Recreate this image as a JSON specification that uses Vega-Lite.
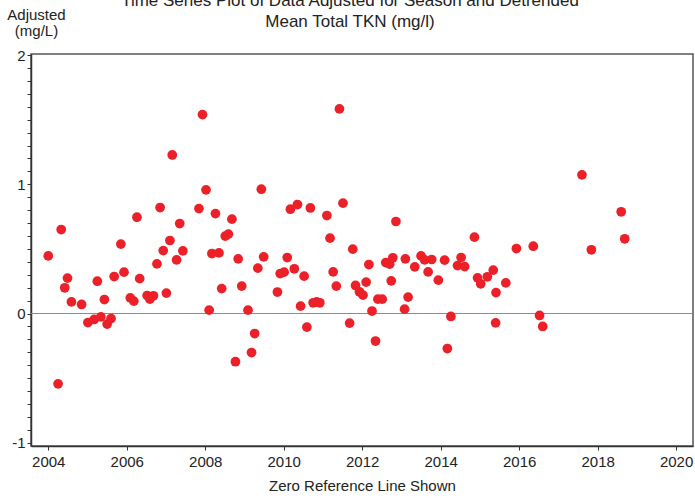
{
  "$schema": "https://vega.github.io/schema/vega-lite/v6.json",
  "width": 662,
  "height": 392,
  "autosize": {"type": "none"},
  "padding": {"left": 31, "top": 54, "right": 2, "bottom": 52},
  "background": "white",
  "title": {
    "text": ["Time Series Plot of Data Adjusted for Season and Detrended", "Mean Total TKN (mg/l)"],
    "anchor": "middle",
    "font": "Liberation Sans",
    "fontSize": 17,
    "fontWeight": "normal",
    "color": "#222222",
    "lineHeight": 21,
    "offset": -24,
    "dx": -12
  },
  "config": {
    "view": {"stroke": "#555555", "strokeWidth": 1.5},
    "axis": {
      "labelFont": "Liberation Sans",
      "titleFont": "Liberation Sans",
      "labelFontSize": 15,
      "titleFontSize": 15,
      "titleFontWeight": "normal",
      "labelColor": "#222222",
      "titleColor": "#222222",
      "domainColor": "#333333",
      "domainWidth": 1.5,
      "tickColor": "#333333",
      "tickWidth": 1,
      "tickSize": 4,
      "grid": false
    }
  },
  "data": {
    "values": [
      {"year": 2004.00, "value": 0.446},
      {"year": 2004.33, "value": 0.650},
      {"year": 2004.25, "value": -0.544},
      {"year": 2004.49, "value": 0.274},
      {"year": 2004.42, "value": 0.199},
      {"year": 2004.59, "value": 0.090},
      {"year": 2004.85, "value": 0.070},
      {"year": 2005.01, "value": -0.070},
      {"year": 2005.17, "value": -0.046},
      {"year": 2005.34, "value": -0.026},
      {"year": 2005.50, "value": -0.082},
      {"year": 2005.60, "value": -0.039},
      {"year": 2005.25, "value": 0.250},
      {"year": 2005.43, "value": 0.108},
      {"year": 2005.68, "value": 0.286},
      {"year": 2005.85, "value": 0.537},
      {"year": 2005.93, "value": 0.320},
      {"year": 2006.26, "value": 0.745},
      {"year": 2006.09, "value": 0.121},
      {"year": 2006.18, "value": 0.096},
      {"year": 2006.33, "value": 0.270},
      {"year": 2006.52, "value": 0.139},
      {"year": 2006.59, "value": 0.111},
      {"year": 2006.68, "value": 0.137},
      {"year": 2007.93, "value": 1.539},
      {"year": 2007.16, "value": 1.227},
      {"year": 2006.85, "value": 0.820},
      {"year": 2008.02, "value": 0.957},
      {"year": 2007.84, "value": 0.812},
      {"year": 2008.26, "value": 0.773},
      {"year": 2008.68, "value": 0.730},
      {"year": 2009.43, "value": 0.962},
      {"year": 2007.35, "value": 0.696},
      {"year": 2007.10, "value": 0.565},
      {"year": 2006.93, "value": 0.487},
      {"year": 2007.43, "value": 0.485},
      {"year": 2007.27, "value": 0.415},
      {"year": 2006.77, "value": 0.384},
      {"year": 2008.51, "value": 0.599},
      {"year": 2008.59, "value": 0.614},
      {"year": 2008.17, "value": 0.464},
      {"year": 2008.35, "value": 0.469},
      {"year": 2008.84, "value": 0.423},
      {"year": 2009.49, "value": 0.438},
      {"year": 2009.34, "value": 0.351},
      {"year": 2007.01, "value": 0.158},
      {"year": 2008.42, "value": 0.193},
      {"year": 2008.93, "value": 0.212},
      {"year": 2008.10, "value": 0.026},
      {"year": 2009.09, "value": 0.026},
      {"year": 2009.26, "value": -0.155},
      {"year": 2009.18, "value": -0.302},
      {"year": 2008.77, "value": -0.373},
      {"year": 2011.42, "value": 1.583},
      {"year": 2010.17, "value": 0.807},
      {"year": 2010.35, "value": 0.843},
      {"year": 2010.68, "value": 0.817},
      {"year": 2011.10, "value": 0.758},
      {"year": 2011.51, "value": 0.854},
      {"year": 2011.18, "value": 0.583},
      {"year": 2011.76, "value": 0.498},
      {"year": 2012.17, "value": 0.379},
      {"year": 2010.09, "value": 0.433},
      {"year": 2009.91, "value": 0.309},
      {"year": 2010.01, "value": 0.320},
      {"year": 2010.27, "value": 0.346},
      {"year": 2010.52, "value": 0.289},
      {"year": 2011.26, "value": 0.322},
      {"year": 2011.34, "value": 0.212},
      {"year": 2009.84, "value": 0.166},
      {"year": 2010.43, "value": 0.057},
      {"year": 2010.75, "value": 0.083},
      {"year": 2010.84, "value": 0.090},
      {"year": 2010.92, "value": 0.083},
      {"year": 2010.59, "value": -0.105},
      {"year": 2011.68, "value": -0.074},
      {"year": 2011.83, "value": 0.217},
      {"year": 2011.93, "value": 0.168},
      {"year": 2012.02, "value": 0.142},
      {"year": 2012.10, "value": 0.243},
      {"year": 2012.25, "value": 0.019},
      {"year": 2012.34, "value": -0.213},
      {"year": 2012.40, "value": 0.111},
      {"year": 2012.51, "value": 0.111},
      {"year": 2012.86, "value": 0.712},
      {"year": 2014.86, "value": 0.591},
      {"year": 2012.60, "value": 0.394},
      {"year": 2012.70, "value": 0.382},
      {"year": 2012.78, "value": 0.431},
      {"year": 2013.10, "value": 0.423},
      {"year": 2013.34, "value": 0.361},
      {"year": 2013.50, "value": 0.446},
      {"year": 2013.59, "value": 0.415},
      {"year": 2013.77, "value": 0.418},
      {"year": 2013.68, "value": 0.322},
      {"year": 2014.10, "value": 0.413},
      {"year": 2013.94, "value": 0.258},
      {"year": 2014.52, "value": 0.433},
      {"year": 2014.43, "value": 0.371},
      {"year": 2014.61, "value": 0.363},
      {"year": 2012.74, "value": 0.253},
      {"year": 2013.17, "value": 0.127},
      {"year": 2013.08, "value": 0.034},
      {"year": 2014.26, "value": -0.023},
      {"year": 2014.17, "value": -0.271},
      {"year": 2014.94, "value": 0.276},
      {"year": 2015.02, "value": 0.230},
      {"year": 2015.19, "value": 0.284},
      {"year": 2015.34, "value": 0.336},
      {"year": 2015.40, "value": -0.072},
      {"year": 2017.60, "value": 1.073},
      {"year": 2015.93, "value": 0.503},
      {"year": 2016.36, "value": 0.521},
      {"year": 2017.84, "value": 0.493},
      {"year": 2015.66, "value": 0.237},
      {"year": 2015.41, "value": 0.162},
      {"year": 2016.52, "value": -0.015},
      {"year": 2016.60, "value": -0.100},
      {"year": 2018.60, "value": 0.787},
      {"year": 2018.69, "value": 0.578}
    ]
  },
  "layer": [
    {
      "mark": {"type": "rule", "color": "#8c8c8c", "strokeWidth": 1.2},
      "encoding": {"y": {"datum": 0, "type": "quantitative"}}
    },
    {
      "mark": {"type": "circle", "color": "#EC2028", "opacity": 1, "size": 95},
      "encoding": {
        "x": {
          "field": "year",
          "type": "quantitative",
          "scale": {"domain": [2003.56, 2020.43], "nice": false, "zero": false},
          "axis": {
            "title": "Zero Reference Line Shown",
            "values": [2004, 2006, 2008, 2010, 2012, 2014, 2016, 2018, 2020],
            "format": "d",
            "tickCount": 40,
            "labelPadding": 4,
            "titlePadding": 9
          }
        },
        "y": {
          "field": "value",
          "type": "quantitative",
          "scale": {"domain": [-1.025, 2.008], "nice": false, "zero": false},
          "axis": {
            "title": ["Adjusted", "(mg/L)"],
            "titleAngle": 0,
            "titleAlign": "center",
            "titleBaseline": "alphabetic",
            "titleX": 5,
            "titleY": -35,
            "titleLineHeight": 16,
            "values": [-1, -0.9, -0.8, -0.7, -0.6, -0.5, -0.4, -0.3, -0.2, -0.1, 0, 0.1, 0.2, 0.3, 0.4, 0.5, 0.6, 0.7, 0.8, 0.9, 1, 1.1, 1.2, 1.3, 1.4, 1.5, 1.6, 1.7, 1.8, 1.9, 2],
            "tickCount": 100,
            "labelExpr": "abs(datum.value - round(datum.value)) < 0.001 ? '' + round(datum.value) : ''",
            "labelPadding": 2,
            "labelOverlap": false
          }
        }
      }
    }
  ]
}
